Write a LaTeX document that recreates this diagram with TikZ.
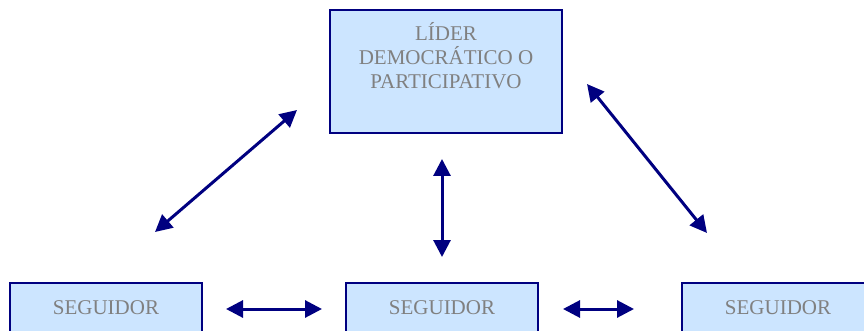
\documentclass[tikz,border=0pt]{standalone}
\usepackage{fontspec}
\setmainfont{Liberation Serif}
\usetikzlibrary{arrows.meta}

\definecolor{cajaazul}{RGB}{204,229,255}
\definecolor{marino}{RGB}{0,0,128}
\definecolor{textogris}{RGB}{128,128,128}

\begin{document}
\begin{tikzpicture}[x=1pt, y=-1pt,
    caja/.style={draw=marino, line width=1.5pt, fill=cajaazul, inner sep=0pt},
    texto/.style={text=textogris, font=\fontsize{21}{24}\selectfont, align=center, inner sep=0pt},
    flecha/.style={draw=marino, line width=3pt, {Triangle[length=17pt,width=17pt]}-{Triangle[length=17pt,width=17pt]}}]
  \clip (0,0) rectangle (864,331);

  % lider
  \node[caja, minimum width=232pt, minimum height=123pt] (lider) at (446,71.5) {};
  \node[texto] (lidertexto) at (446,56) {LÍDER\\DEMOCRÁTICO O\\PARTICIPATIVO};

  % seguidores
  \node[caja, minimum width=192pt, minimum height=50pt, texto] (seguidorA) at (106,308) {SEGUIDOR};
  \node[caja, minimum width=192pt, minimum height=50pt, texto] (seguidorB) at (442,308) {SEGUIDOR};
  \node[caja, minimum width=192pt, minimum height=50pt, texto] (seguidorC) at (778,308) {SEGUIDOR};

  % extremos de las flechas
  \coordinate (izqA) at (155,232);
  \coordinate (izqB) at (297,110);
  \coordinate (cenA) at (442,159);
  \coordinate (cenB) at (442,257);
  \coordinate (derA) at (587,84);
  \coordinate (derB) at (707,233);
  \coordinate (bajoA) at (226,309);
  \coordinate (bajoB) at (322,309);
  \coordinate (bajoC) at (563,309);
  \coordinate (bajoD) at (634,309);

  \draw[flecha] (izqA) -- (izqB);
  \draw[flecha] (cenA) -- (cenB);
  \draw[flecha] (derA) -- (derB);
  \draw[flecha] (bajoA) -- (bajoB);
  \draw[flecha] (bajoC) -- (bajoD);
\end{tikzpicture}
\end{document}
